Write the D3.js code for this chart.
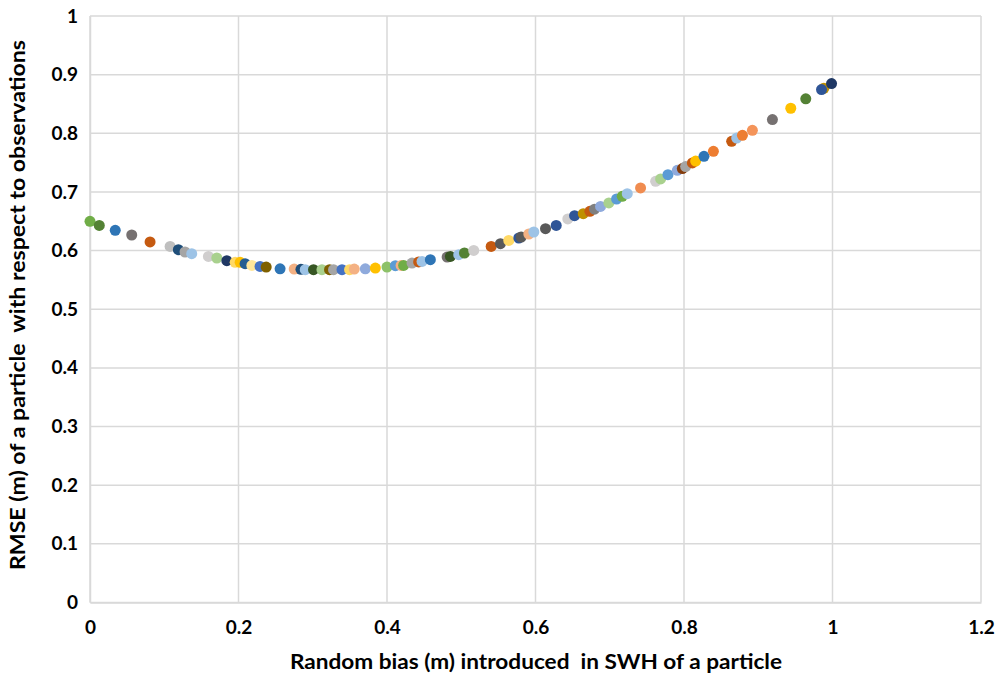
<!DOCTYPE html>
<html>
<head>
<meta charset="utf-8">
<script src="https://cdn.jsdelivr.net/npm/d3@7/dist/d3.min.js"></script>
<style>
html,body{margin:0;padding:0;background:#fff;}
svg{display:block;}
.title{white-space:pre;}
</style>
</head>
<body>
<svg id="chart" width="1000" height="674"></svg>
<script>
// Data (each point = one particle)
const biasValues = [0.000,0.0125,0.034,0.0562,0.0809,0.1079,0.119,0.128,0.137,0.1595,0.1708,0.1843,0.1955,0.2022,0.2089,0.218,0.229,0.2373,0.256,0.275,0.2841,0.2899,0.301,0.3124,0.3226,0.328,0.3394,0.3496,0.3559,0.3708,0.3843,0.40,0.4113,0.419,0.4224,0.4337,0.4426,0.4472,0.4584,0.481,0.4854,0.4966,0.5043,0.5168,0.5403,0.5528,0.564,0.5775,0.5807,0.591,0.5977,0.6135,0.6279,0.6435,0.6526,0.6643,0.6732,0.6795,0.6876,0.6988,0.7092,0.7168,0.7236,0.7415,0.7618,0.7685,0.7784,0.791,0.7978,0.8022,0.8113,0.8157,0.8269,0.8396,0.8642,0.871,0.8787,0.8921,0.9191,0.9438,0.964,0.9883,0.9852,0.9987];
const rmseValues = [0.650,0.643,0.6345,0.6266,0.6147,0.6072,0.6015,0.5976,0.5947,0.590,0.5874,0.5828,0.580,0.580,0.5777,0.5747,0.573,0.572,0.569,0.5686,0.568,0.5674,0.5674,0.5674,0.5674,0.5674,0.5674,0.5674,0.5686,0.569,0.5703,0.572,0.5742,0.5747,0.5747,0.5788,0.5806,0.5816,0.5845,0.589,0.590,0.593,0.5959,0.6003,0.6072,0.6118,0.6174,0.6215,0.6232,0.6283,0.6317,0.6374,0.643,0.654,0.6596,0.663,0.6669,0.6706,0.6754,0.6812,0.688,0.6925,0.6971,0.7068,0.7181,0.7222,0.7295,0.7369,0.7398,0.7432,0.7495,0.7526,0.7608,0.7693,0.7863,0.7918,0.7966,0.8051,0.8234,0.8427,0.8587,0.8768,0.8746,0.8848];
const xTickValues = [0,0.2,0.4,0.6,0.8,1,1.2];
const xTickLabels = ["0","0.2","0.4","0.6","0.8","1","1.2"];
const yTickValues = [0,0.1,0.2,0.3,0.4,0.5,0.6,0.7,0.8,0.9,1];
const yTickLabels = ["0","0.1","0.2","0.3","0.4","0.5","0.6","0.7","0.8","0.9","1"];
const xTitle = "Random bias (m) introduced  in SWH of a particle";
const yTitle = "RMSE (m) of a particle  with respect to observations";

// Styles (per-particle marker colours, Excel automatic series colours)
const pointColors = ["#70AD47","#548235","#2E75B6","#767171","#C55A11","#BFBFBF","#1F4E79","#A5A5A5","#9DC3E6","#D0CECE","#A9D18E","#203864","#FFD966","#FFC000","#255E91","#FFE699","#4472C4","#7F6000","#2E75B6","#F4B183","#1F4E79","#9DC3E6","#375623","#A9D18E","#7F6000","#A5A5A5","#4472C4","#FFD966","#F4B183","#8FAADC","#FFC000","#8CC168","#5B9BD5","#F4B183","#70AD47","#A5A5A5","#C55A11","#9DC3E6","#2E75B6","#767171","#375623","#9DC3E6","#548235","#D0CECE","#C55A11","#595959","#FFD966","#2F5597","#595959","#F4B183","#9DC3E6","#595959","#2F5597","#D0CECE","#2F5597","#BF9000","#C55A11","#7F7F7F","#8FAADC","#A9D18E","#5B9BD5","#70AD47","#9DC3E6","#F08C50","#D0CECE","#A9D18E","#5B9BD5","#8FAADC","#843C0C","#A5A5A5","#C55A11","#FFC000","#2E75B6","#ED7D31","#C55A11","#9DC3E6","#ED7D31","#F4945A","#767171","#FFC000","#548235","#BF9000","#2F5597","#1F3864"];

const svg = d3.select("#chart");
const margin = {left: 90, right: 19, top: 16, bottom: 71.5};
const W = 1000, H = 674;

const x = d3.scaleLinear().domain([0, 1.2]).range([margin.left, W - margin.right]);
const y = d3.scaleLinear().domain([0, 1]).range([H - margin.bottom, margin.top]);

const font = "Lato, 'Liberation Sans', sans-serif";
const gridColor = "#D9D9D9";

// Gridlines
svg.append("g").selectAll("line.v").data(xTickValues).join("line")
  .attr("x1", d => x(d)).attr("x2", d => x(d))
  .attr("y1", y(0)).attr("y2", y(1))
  .attr("stroke", gridColor).attr("stroke-width", 1.5);
svg.append("g").selectAll("line.h").data(yTickValues).join("line")
  .attr("x1", x(0)).attr("x2", x(1.2))
  .attr("y1", d => y(d)).attr("y2", d => y(d))
  .attr("stroke", gridColor).attr("stroke-width", 1.5);

// Axes (tick labels only; lines drawn by gridlines)
const xAxis = d3.axisBottom(x).tickValues(xTickValues).tickFormat((d,i) => xTickLabels[i]).tickSize(0).tickPadding(18);
const gx = svg.append("g").attr("transform", `translate(0,${y(0)})`).call(xAxis);
gx.select(".domain").attr("stroke", gridColor).attr("stroke-width", 1.5);
gx.selectAll("text").attr("font-family", font).attr("font-weight", "bold").attr("font-size", 19).attr("fill", "#000");

const yAxis = d3.axisLeft(y).tickValues(yTickValues).tickFormat((d,i) => yTickLabels[i]).tickSize(0).tickPadding(12);
const gy = svg.append("g").attr("transform", `translate(${x(0)},0)`).call(yAxis);
gy.select(".domain").attr("stroke", gridColor).attr("stroke-width", 1.5);
gy.selectAll("text").attr("font-family", font).attr("font-weight", "bold").attr("font-size", 19).attr("fill", "#000");

// Points
const pts = biasValues.map((b, i) => ({b, r: rmseValues[i], c: pointColors[i % pointColors.length]}));
svg.append("g").selectAll("circle").data(pts).join("circle")
  .attr("cx", d => x(d.b)).attr("cy", d => y(d.r)).attr("r", 5.5)
  .attr("fill", d => d.c);

// Titles
svg.append("text").attr("class", "title").attr("x", 536).attr("y", 669)
  .attr("text-anchor", "middle").attr("font-family", font).attr("font-weight", "bold")
  .attr("font-size", 21).attr("textLength", 492).attr("lengthAdjust", "spacingAndGlyphs")
  .attr("fill", "#000").text(xTitle);
svg.append("text").attr("class", "title").attr("transform", `translate(25,305) rotate(-90)`)
  .attr("text-anchor", "middle").attr("font-family", font).attr("font-weight", "bold")
  .attr("font-size", 21).attr("textLength", 530).attr("lengthAdjust", "spacingAndGlyphs")
  .attr("fill", "#000").text(yTitle);
</script>
</body>
</html>
